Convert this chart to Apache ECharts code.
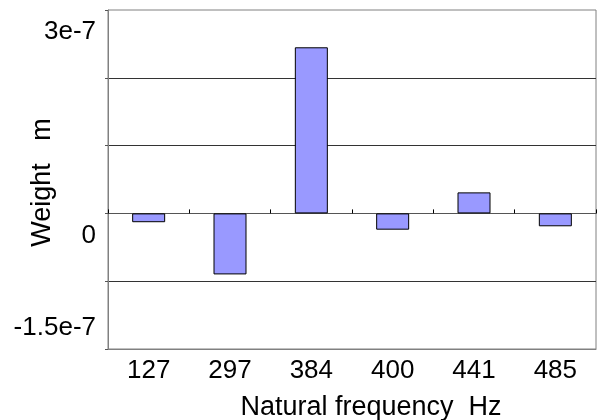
<!DOCTYPE html>
<html><head><meta charset="utf-8">
<script src="https://cdn.jsdelivr.net/npm/echarts@6/dist/echarts.min.js"></script>
<style>html,body{margin:0;padding:0;background:#fff}#c{width:601px;height:420px}</style>
</head><body><div id="c"></div>
<script>
const categories = ['127', '297', '384', '400', '441', '485'];
const weights = [-0.13e-7, -0.90e-7, 2.45e-7, -0.24e-7, 0.31e-7, -0.19e-7];
const yTickLabels = ['3e-7', '0', '-1.5e-7'];
const yMin = -2e-7, yMax = 3e-7, yStep = 1e-7;

const FONT = 'Liberation Sans, Arial, sans-serif';
const eps = 1e-9;
const chart = echarts.init(document.getElementById('c'), null, {renderer: 'canvas'});
chart.setOption({
  animation: false,
  backgroundColor: '#fff',
  grid: {left: 108, right: 5, top: 10, bottom: 71, show: true, borderColor: '#808080', borderWidth: 1,
         containLabel: false, outerBoundsMode: 'none'},
  xAxis: [
    {
      type: 'category', data: categories, position: 'bottom',
      axisLine: {show: true, onZero: false, lineStyle: {color: '#808080', width: 1}},
      axisTick: {show: false},
      axisLabel: {color: '#000', fontSize: 26, fontFamily: FONT, margin: 9},
      name: 'Natural frequency  Hz', nameLocation: 'middle', nameGap: 45, nameMoveOverlap: false,
      nameTextStyle: {color: '#000', fontSize: 27, fontFamily: FONT, padding: [0, 0, 0, 38]}
    },
    {
      type: 'category', data: categories, position: 'top',
      axisLine: {show: true, onZero: true, lineStyle: {color: '#555', width: 1}},
      axisTick: {show: true, inside: false, length: 4, lineStyle: {color: '#000'}},
      axisLabel: {show: false}
    }
  ],
  yAxis: {
    type: 'value', min: yMin, max: yMax, interval: yStep,
    axisLine: {show: true, lineStyle: {color: '#808080'}},
    axisTick: {show: true, length: 3, lineStyle: {color: '#555'}},
    splitLine: {show: true, showMinLine: false, showMaxLine: false, lineStyle: {color: '#333', width: 1}},
    axisLabel: {
      color: '#000', fontSize: 26, fontFamily: FONT, margin: 12,
      formatter: function (v) {
        if (Math.abs(v - yMax) < eps) return '{top|' + yTickLabels[0] + '}';
        if (Math.abs(v) < eps) return '{mid|' + yTickLabels[1] + '}';
        if (Math.abs(v - yMin) < eps) return '{bot|' + yTickLabels[2] + '}';
        return '';
      },
      rich: {
        top: {fontSize: 26, fontFamily: FONT, color: '#000', padding: [44, 0, 0, 0]},
        mid: {fontSize: 26, fontFamily: FONT, color: '#000', padding: [44, 0, 0, 0]},
        bot: {fontSize: 26, fontFamily: FONT, color: '#000', padding: [0, 0, 42, 0]}
      }
    },
    name: 'Weight   m', nameLocation: 'middle', nameGap: 52, nameRotate: 90, nameMoveOverlap: false,
    nameTextStyle: {color: '#000', fontSize: 27, fontFamily: FONT, padding: [0, 6, 0, 0]}
  },
  series: [{
    type: 'bar', xAxisIndex: 0, data: weights, barWidth: 33,
    itemStyle: {color: '#9999FF', borderColor: '#000', borderWidth: 1}
  }]
});
</script></body></html>
